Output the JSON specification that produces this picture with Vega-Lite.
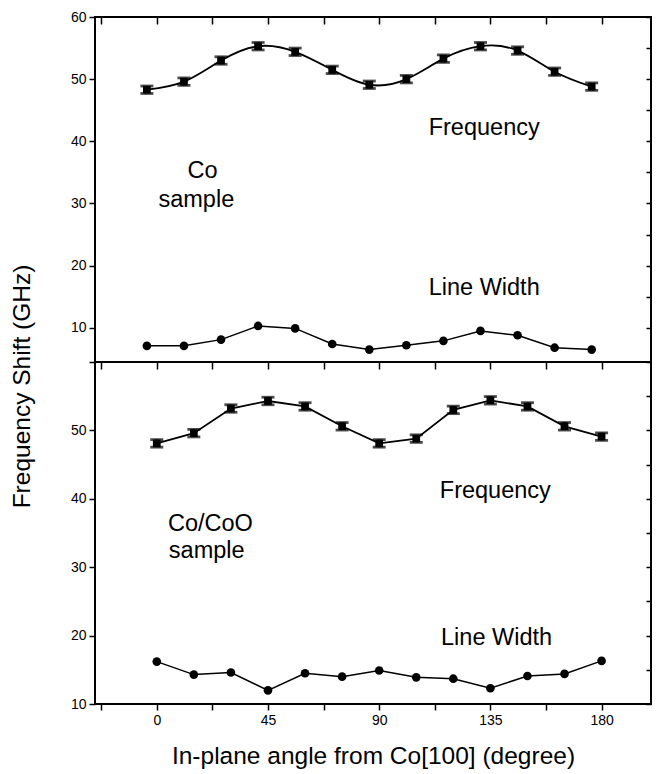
{
  "$schema": "https://vega.github.io/schema/vega-lite/v6.json",
  "background": "white",
  "padding": {"left": 8, "top": 9, "right": 5, "bottom": 5},
  "config": {
    "font": "Liberation Sans",
    "view": {"stroke": "black", "strokeWidth": 2},
    "axis": {"domain": false, "grid": false, "tickColor": "black", "tickWidth": 1.5, "labelColor": "black", "labelFontSize": 14, "labelFont": "Liberation Sans", "titleFont": "Liberation Sans", "titleFontSize": 24.5, "titleFontWeight": "normal", "titleColor": "black"}
  },
  "datasets": {
    "top": [
      {"angle": -4, "freq": 48.3, "err": 0.6, "lw": 7.1},
      {"angle": 11, "freq": 49.6, "err": 0.6, "lw": 7.1},
      {"angle": 26, "freq": 53.0, "err": 0.6, "lw": 8.1},
      {"angle": 41, "freq": 55.3, "err": 0.6, "lw": 10.3},
      {"angle": 56, "freq": 54.4, "err": 0.6, "lw": 9.9},
      {"angle": 71, "freq": 51.5, "err": 0.6, "lw": 7.4},
      {"angle": 86, "freq": 49.1, "err": 0.6, "lw": 6.5},
      {"angle": 101, "freq": 50.0, "err": 0.6, "lw": 7.2},
      {"angle": 116, "freq": 53.3, "err": 0.6, "lw": 7.9},
      {"angle": 131, "freq": 55.3, "err": 0.6, "lw": 9.5},
      {"angle": 146, "freq": 54.6, "err": 0.6, "lw": 8.8},
      {"angle": 161, "freq": 51.2, "err": 0.6, "lw": 6.8},
      {"angle": 176, "freq": 48.8, "err": 0.6, "lw": 6.5}
    ],
    "bottom": [
      {"angle": 0, "freq": 48.1, "err": 0.55, "lw": 16.2},
      {"angle": 15, "freq": 49.6, "err": 0.55, "lw": 14.3},
      {"angle": 30, "freq": 53.2, "err": 0.55, "lw": 14.6},
      {"angle": 45, "freq": 54.3, "err": 0.55, "lw": 12.0},
      {"angle": 60, "freq": 53.5, "err": 0.55, "lw": 14.5},
      {"angle": 75, "freq": 50.6, "err": 0.55, "lw": 14.0},
      {"angle": 90, "freq": 48.1, "err": 0.55, "lw": 14.9},
      {"angle": 105, "freq": 48.8, "err": 0.55, "lw": 13.9},
      {"angle": 120, "freq": 53.0, "err": 0.55, "lw": 13.7},
      {"angle": 135, "freq": 54.4, "err": 0.55, "lw": 12.3},
      {"angle": 150, "freq": 53.5, "err": 0.55, "lw": 14.1},
      {"angle": 165, "freq": 50.6, "err": 0.55, "lw": 14.4},
      {"angle": 180, "freq": 49.1, "err": 0.55, "lw": 16.3}
    ],
    "topText": [
      {"label": "Frequency", "angle": 132.5, "value": 42.2},
      {"label": "Line Width", "angle": 132.5, "value": 16.4},
      {"label": "Co", "angle": 18.5, "value": 35.3},
      {"label": "sample", "angle": 16, "value": 30.6}
    ],
    "bottomText": [
      {"label": "Frequency", "angle": 137, "value": 41.1},
      {"label": "Line Width", "angle": 137.5, "value": 19.7},
      {"label": "Co/CoO", "angle": 21.7, "value": 36.3},
      {"label": "sample", "angle": 20.2, "value": 32.3}
    ]
  },
  "bounds": "flush",
  "spacing": 0,
  "vconcat": [
    {
      "width": 556,
      "height": 345,
      "data": {"name": "top"},
      "layer": [
        {
          "layer": [
            {
              "mark": {"type": "line", "interpolate": "natural", "color": "black", "strokeWidth": 1.8},
              "encoding": {
                "x": {"field": "angle", "type": "quantitative", "scale": {"domain": [-25, 200], "nice": false, "zero": false}, "axis": null},
                "y": {"field": "freq", "type": "quantitative", "title": "Frequency Shift (GHz)", "scale": {"domain": [4.5, 60], "nice": false, "zero": false},
                  "axis": {"orient": "left", "values": [10, 15, 20, 25, 30, 35, 40, 45, 50, 55, 60], "labelExpr": "datum.value % 10 === 0 ? datum.label : ''", "tickSize": 6, "labelPadding": 3, "titleX": -73, "titleY": 369, "titleAngle": -90, "titleAlign": "center", "titleBaseline": "middle"}}
              }
            },
            {
              "mark": {"type": "errorbar", "ticks": true, "size": 13, "thickness": 2.8, "color": "black"},
              "encoding": {
                "x": {"field": "angle", "type": "quantitative"},
                "y": {"field": "freq", "type": "quantitative", "title": "Frequency Shift (GHz)"},
                "yError": {"field": "err"}
              }
            },
            {
              "mark": {"type": "square", "filled": true, "color": "black", "size": 60, "opacity": 1},
              "encoding": {
                "x": {"field": "angle", "type": "quantitative"},
                "y": {"field": "freq", "type": "quantitative", "title": "Frequency Shift (GHz)"}
              }
            },
            {
              "mark": {"type": "line", "color": "black", "strokeWidth": 1.5},
              "encoding": {
                "x": {"field": "angle", "type": "quantitative"},
                "y": {"field": "lw", "type": "quantitative", "title": "Frequency Shift (GHz)"}
              }
            },
            {
              "mark": {"type": "circle", "color": "black", "size": 75, "opacity": 1},
              "encoding": {
                "x": {"field": "angle", "type": "quantitative"},
                "y": {"field": "lw", "type": "quantitative", "title": "Frequency Shift (GHz)"}
              }
            },
            {
              "data": {"name": "topText"},
              "mark": {"type": "text", "fontSize": 23.5, "font": "Liberation Sans", "color": "black", "align": "center", "baseline": "middle"},
              "encoding": {
                "x": {"field": "angle", "type": "quantitative"},
                "y": {"field": "value", "type": "quantitative", "title": "Frequency Shift (GHz)"},
                "text": {"field": "label"}
              }
            }
          ]
        },
        {
          "mark": {"type": "point", "opacity": 0},
          "encoding": {
            "x": {"field": "angle", "type": "quantitative", "axis": {"orient": "top", "values": [-22.5, 0, 22.5, 45, 67.5, 90, 112.5, 135, 157.5, 180], "labels": false, "tickSize": -7, "title": null}},
            "y": {"field": "lw", "type": "quantitative", "axis": {"orient": "right", "values": [10, 15, 20, 25, 30, 35, 40, 45, 50, 55, 60], "labels": false, "tickSize": -5, "title": null}}
          }
        }
      ],
      "resolve": {"axis": {"x": "independent", "y": "independent"}}
    },
    {
      "width": 556,
      "height": 342,
      "data": {"name": "bottom"},
      "layer": [
        {
          "layer": [
            {
              "mark": {"type": "line", "color": "black", "strokeWidth": 1.8},
              "encoding": {
                "x": {"field": "angle", "type": "quantitative", "scale": {"domain": [-25, 200], "nice": false, "zero": false},
                  "axis": {"orient": "bottom", "values": [-22.5, 0, 22.5, 45, 67.5, 90, 112.5, 135, 157.5, 180], "labelExpr": "datum.value % 45 === 0 ? datum.label : ''", "tickSize": 6, "labelPadding": 3, "title": "In-plane angle from Co[100] (degree)", "titlePadding": 17}},
                "y": {"field": "freq", "type": "quantitative", "scale": {"domain": [10, 60], "nice": false, "zero": false},
                  "axis": {"orient": "left", "values": [10, 15, 20, 25, 30, 35, 40, 45, 50, 55, 60], "labelExpr": "datum.value % 10 === 0 && datum.value < 60 ? datum.label : ''", "tickSize": 6, "labelPadding": 3, "title": null}}
              }
            },
            {
              "mark": {"type": "errorbar", "ticks": true, "size": 13, "thickness": 2.8, "color": "black"},
              "encoding": {
                "x": {"field": "angle", "type": "quantitative"},
                "y": {"field": "freq", "type": "quantitative"},
                "yError": {"field": "err"}
              }
            },
            {
              "mark": {"type": "square", "filled": true, "color": "black", "size": 60, "opacity": 1},
              "encoding": {
                "x": {"field": "angle", "type": "quantitative"},
                "y": {"field": "freq", "type": "quantitative"}
              }
            },
            {
              "mark": {"type": "line", "color": "black", "strokeWidth": 1.5},
              "encoding": {
                "x": {"field": "angle", "type": "quantitative"},
                "y": {"field": "lw", "type": "quantitative"}
              }
            },
            {
              "mark": {"type": "circle", "color": "black", "size": 75, "opacity": 1},
              "encoding": {
                "x": {"field": "angle", "type": "quantitative"},
                "y": {"field": "lw", "type": "quantitative"}
              }
            },
            {
              "data": {"name": "bottomText"},
              "mark": {"type": "text", "fontSize": 23.5, "font": "Liberation Sans", "color": "black", "align": "center", "baseline": "middle"},
              "encoding": {
                "x": {"field": "angle", "type": "quantitative"},
                "y": {"field": "value", "type": "quantitative"},
                "text": {"field": "label"}
              }
            }
          ]
        },
        {
          "mark": {"type": "point", "opacity": 0},
          "encoding": {
            "x": {"field": "angle", "type": "quantitative", "axis": {"orient": "top", "values": [-22.5, 0, 22.5, 45, 67.5, 90, 112.5, 135, 157.5, 180], "labels": false, "tickSize": -7, "title": null}},
            "y": {"field": "lw", "type": "quantitative", "axis": {"orient": "right", "values": [10, 15, 20, 25, 30, 35, 40, 45, 50, 55, 60], "labels": false, "tickSize": -5, "title": null}}
          }
        }
      ],
      "resolve": {"axis": {"x": "independent", "y": "independent"}}
    }
  ]
}
